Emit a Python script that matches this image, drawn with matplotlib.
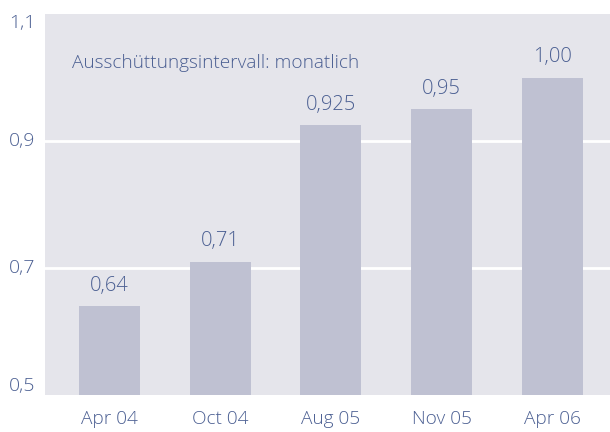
import matplotlib
matplotlib.use("Agg")
import matplotlib.pyplot as plt

categories = ["Apr 04", "Oct 04", "Aug 05", "Nov 05", "Apr 06"]
values = [0.64, 0.71, 0.925, 0.95, 1.00]
value_labels = ["0,64", "0,71", "0,925", "0,95", "1,00"]
yticks = [0.5, 0.7, 0.9, 1.1]
ytick_labels = ["0,5", "0,7", "0,9", "1,1"]
note = "Ausschüttungsintervall: monatlich"

text_color = "#4b5f92"
bg = "#e5e5eb"
bar_color = "#bfc1d2"

plt.rcParams['font.family'] = ['Open Sans', 'DejaVu Sans']
w = 'light'

fig = plt.figure(figsize=(6.1, 4.32), dpi=100)
ax = fig.add_axes([45/610, 37/432, 565/610, 381/432])
ax.set_facecolor(bg)
x = list(range(len(categories)))
ax.bar(x, [v - 0.5 for v in values], bottom=0.5, width=0.55, color=bar_color, zorder=3)
for yv in [0.7, 0.9]:
    ax.axhline(yv, color="white", lw=2, zorder=2)
ax.set_xlim(-0.582, 4.52)
ax.set_ylim(0.5, 1.1)
ax.set_yticks(yticks)
ax.set_yticklabels(ytick_labels, fontsize=14, fontweight=w)
ax.set_xticks(x)
ax.set_xticklabels(categories, fontsize=13.7, fontweight=w)
ax.tick_params(length=0, colors=text_color)
ax.tick_params(axis='y', pad=7)
ax.tick_params(axis='x', pad=11)
ylabs = ax.get_yticklabels()
for lab, va in zip(ylabs, ['bottom', 'center', 'center', 'top']):
    lab.set_verticalalignment(va)
for s in ax.spines.values():
    s.set_visible(False)
for xi, v, l in zip(x, values, value_labels):
    ax.annotate(l, (xi, v), xytext=(0, 11), textcoords="offset points",
                ha="center", va="baseline", fontsize=14.5, fontweight=w, color=text_color)
ax.text((72-45)/565, (395-68)/381, note, transform=ax.transAxes,
        fontsize=13.7, fontweight=w, color=text_color, va="baseline")
fig.savefig("out.png", dpi=100)
